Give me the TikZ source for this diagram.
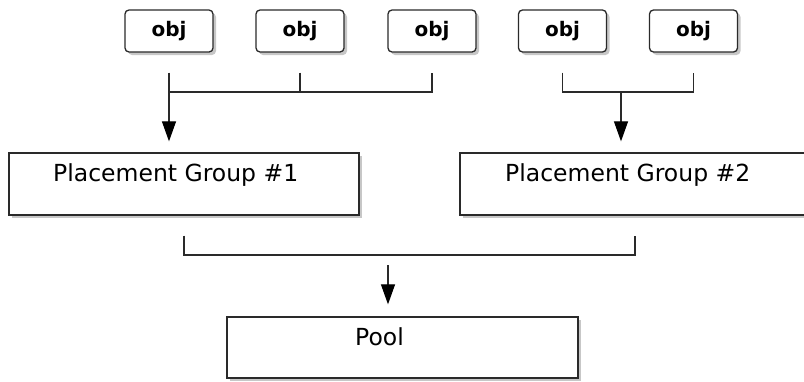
\documentclass[tikz,border=0pt]{standalone}
\usepackage{fontspec}
\setmainfont{DejaVu Sans}
\usetikzlibrary{arrows.meta,shadows}
\definecolor{linec}{HTML}{2A2A2A}
\tikzset{
  boxshadow/.style={drop shadow={shadow xshift=3pt,shadow yshift=-3pt,fill=black,opacity=0.22}},
  objbox/.style={draw=linec,line width=1.3pt,rounded corners=4pt,fill=white,boxshadow,
    minimum width=88pt,minimum height=42pt,inner sep=0pt,
    font=\bfseries\fontsize{20}{24}\selectfont},
  bigbox/.style={draw=linec,line width=1.3pt,fill=white,boxshadow,
    minimum width=350pt,minimum height=62pt,inner sep=0pt},
  lbl/.style={anchor=base west,inner sep=0pt,font=\fontsize{23.5}{28}\selectfont},
  conn/.style={draw=linec,line width=1.2pt},
  arr/.style={conn,-{Triangle[width=14pt,length=20pt,color=black]}},
}
\begin{document}
\begin{tikzpicture}[x=1pt,y=-1pt]
\path[use as bounding box,clip] (0,0) rectangle (804,381);
\fill[white] (0,0) rectangle (804,381);
% obj boxes
\node[objbox] (o1) at (169,31) {obj};
\node[objbox] (o2) at (300,31) {obj};
\node[objbox] (o3) at (432,31) {obj};
\node[objbox] (o4) at (562.5,31) {obj};
\node[objbox] (o5) at (693.5,31) {obj};
% placement groups
\node[bigbox] (pg1) at (184,184) {};
\node[lbl] (t1) at (53,181) {Placement Group \#1};
\node[bigbox] (pg2) at (635,184) {};
\node[lbl] (t2) at (505,181) {Placement Group \#2};
% pool
\node[bigbox,minimum width=351pt,minimum height=61pt] (pool) at (402.5,347.5) {};
\node[lbl] (t3) at (355,345) {Pool};
% buses
\coordinate (bus1) at (0,92);
\coordinate (m2) at (621,92);
\coordinate (bus3) at (0,255);
\coordinate (a3) at (388,265);
\draw[conn] ([yshift=-20pt]o1.south) -- (o1.south |- bus1) -- (o3.south |- bus1) -- ([yshift=-20pt]o3.south);
\draw[conn] ([yshift=-20pt]o2.south) -- (o2.south |- bus1);
\draw[arr] (o1.south |- bus1) -- ([yshift=11pt]o1.south |- pg1.north);
\draw[conn] ([yshift=-20pt]o4.south) -- (o4.south |- bus1) -- (o5.south |- bus1) -- ([yshift=-20pt]o5.south);
\draw[arr] (m2) -- ([yshift=11pt]m2 |- pg2.north);
\draw[conn] ([yshift=-20pt]pg1.south) -- (pg1.south |- bus3) -- (pg2.south |- bus3) -- ([yshift=-20pt]pg2.south);
\draw[arr] (a3) -- ([yshift=12pt]a3 |- pool.north);
\end{tikzpicture}
\end{document}
